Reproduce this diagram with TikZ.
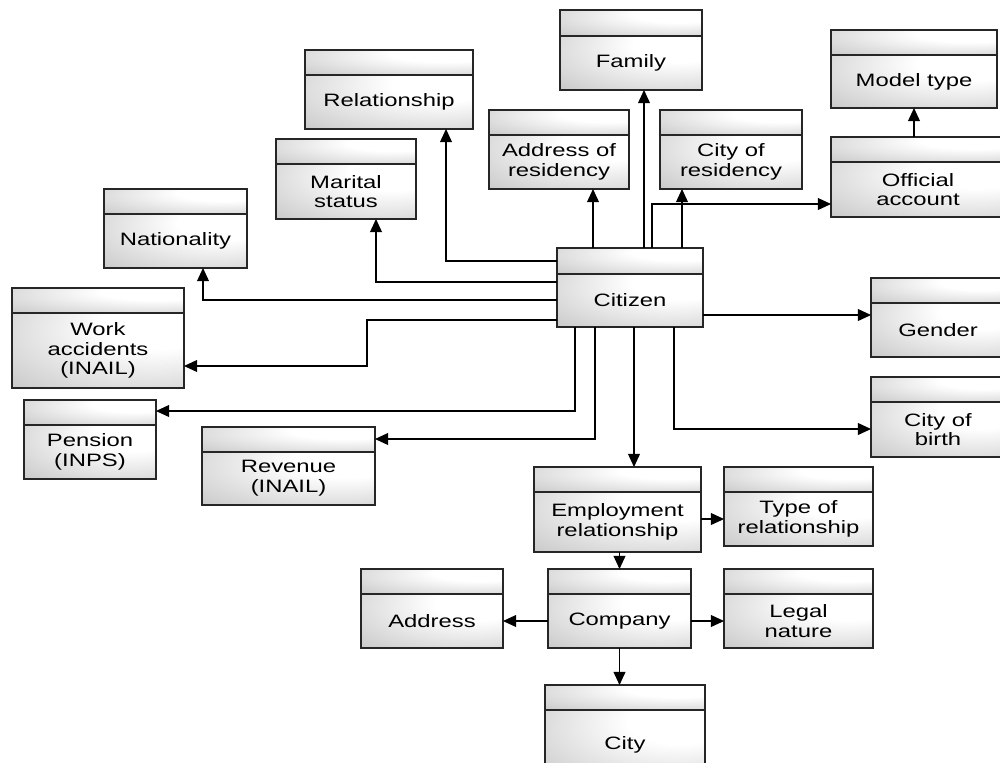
\documentclass[tikz,border=0pt]{standalone}
\usepackage{fontspec}
\setmainfont{Liberation Sans}[FakeStretch=1.33]
\usetikzlibrary{arrows.meta}

% light at the upper right corner, greying towards the lower left
\colorlet{entgray}{black!30}
\pgfdeclareradialshading{entshade}{\pgfpoint{20bp}{20bp}}{%
  color(0bp)=(white); color(16bp)=(white); color(64bp)=(entgray); color(100bp)=(entgray)}

\tikzset{
  ent/.style={draw=black!85, line width=0.6pt, shade, shading=entshade,
              inner sep=0pt, outer sep=0pt,
              anchor=north west, font=\fontsize{10.2}{11.2}\selectfont, align=center},
  link/.style={draw=black, line width=0.6pt, -{Triangle[length=7.5pt,width=6.8pt]}},
}

% entity box: name, left, top, right, header bottom, bottom, label
\newcommand{\entity}[7]{%
  \node[ent, minimum width={(#4-#2)*0.02cm}, minimum height={(#5-#3)*0.02cm}]
    (#1-h) at (#2,#3) {};
  \node[ent, minimum width={(#4-#2)*0.02cm}, minimum height={(#6-#5)*0.02cm}]
    (#1) at (#2,#5) {#7};
}

\begin{document}
\begin{tikzpicture}[x=0.02cm, y=-0.02cm]
\useasboundingbox (0,0) rectangle (1000,762);

\entity{family}{560}{10}{702}{36}{90}{Family}
\entity{relationship}{305}{50}{473}{75}{129}{Relationship}
\entity{modeltype}{831}{30}{997}{55}{108}{Model type}
\entity{addrres}{489}{110}{629}{135}{189}{Address of\\residency}
\entity{cityres}{660}{110}{802}{135}{189}{City of\\residency}
\entity{marital}{276}{139}{416}{164}{219}{Marital\\status}
\entity{official}{831}{137}{1005}{162}{217}{Official\\account}
\entity{nationality}{104}{189}{247}{214}{268}{Nationality}
\entity{citizen}{557}{248}{703}{274}{327}{Citizen}
\entity{work}{12}{288}{184}{313}{388}{Work\\accidents\\(INAIL)}
\entity{gender}{871}{278}{1005}{303}{357}{Gender}
\entity{pension}{24}{400}{156}{425}{479}{Pension\\(INPS)}
\entity{revenue}{202}{427}{375}{452}{505}{Revenue\\(INAIL)}
\entity{citybirth}{871}{377}{1005}{402}{457}{City of\\birth}
\entity{employment}{534}{467}{701}{492}{552}{Employment\\relationship}
\entity{typerel}{724}{467}{873}{492}{546}{Type of\\relationship}
\entity{address}{361}{569}{503}{594}{648}{Address}
\entity{company}{548}{569}{691}{594}{648}{Company}
\entity{legal}{724}{569}{873}{594}{648}{Legal\\nature}
\entity{city}{545}{685}{705}{710}{780}{City}

% links leaving the top of Citizen
\draw[link] (citizen-h.north -| 644,0) -- (family.south -| 644,0);
\draw[link] (citizen-h.north -| 593,0) -- (addrres.south -| 593,0);
\draw[link] (citizen-h.north -| 682,0) -- (cityres.south -| 682,0);
\draw[link] (citizen-h.north -| 652,0) |- (official.west |- 0,204);
\draw[link] (official-h.north -| modeltype.south) -- (modeltype.south);

% links leaving the left side of Citizen
\draw[link] (citizen-h.west) -| (relationship.south -| 446,0);
\draw[link] (citizen.west |- 0,282) -| (marital.south -| 376,0);
\draw[link] (citizen.west |- 0,300) -| (nationality.south -| 203,0);
\draw[link] (citizen.west |- 0,320) -- (367,320) -- (367,366) -- (work.east |- 0,366);

% links leaving the bottom and right of Citizen
\draw[link] (citizen.south -| 575,0) |- (pension-h.east |- 0,411);
\draw[link] (citizen.south -| 595,0) |- (revenue-h.east |- 0,439);
\draw[link] (citizen.south -| 634,0) -- (employment-h.north -| 634,0);
\draw[link] (citizen.south -| 674,0) |- (citybirth.west |- 0,429);
\draw[link] (citizen.east |- 0,315) -- (gender.west |- 0,315);

% employment and company
\draw[link] (employment.east |- typerel) -- (typerel.west);
\draw[link] (employment.south -| company-h.north) -- (company-h.north);
\draw[link] (company.west) -- (address.east);
\draw[link] (company.east) -- (legal.west);
\draw[link] (company.south) -- (company.south |- city-h.north);
\end{tikzpicture}
\end{document}
